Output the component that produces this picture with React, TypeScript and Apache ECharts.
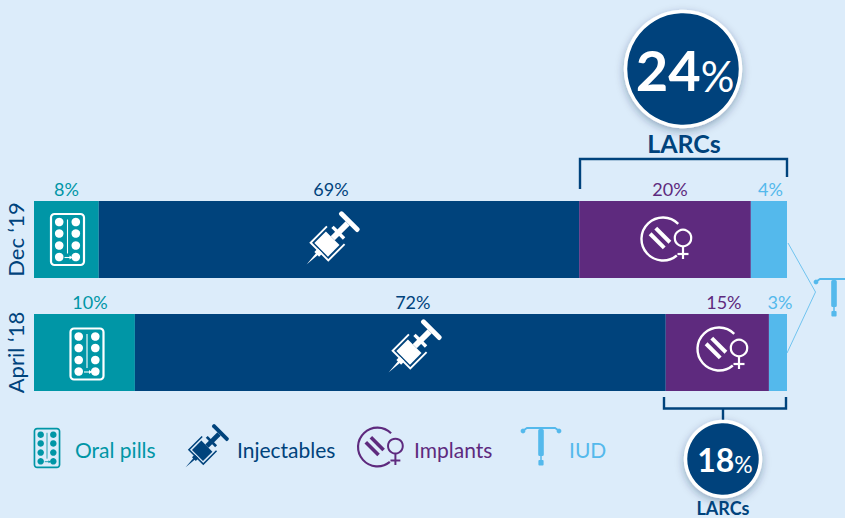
import React, { useEffect, useRef } from "react";
import * as echarts from "echarts";

// Rows, top to bottom
const periods = ["Dec ‘19", "April ‘18"];
// Printed percentages
const pillLabels = ["8%", "10%"];
const injectableLabels = ["69%", "72%"];
const implantLabels = ["20%", "15%"];
const iudLabels = ["4%", "3%"];
// Drawn segment lengths (the source bars are not to scale with the printed figures)
const pillLengths = [8.6, 13.4];
const injectableLengths = [63.8, 70.5];
const implantLengths = [22.8, 13.7];
const iudLengths = [4.8, 2.4];
// Legend & LARC callouts
const legendNames = ["Oral pills", "Injectables", "Implants", "IUD"];
const larcTotals = ["24", "18"];
const larcName = "LARCs";

const BG = "#dcecfa";
const TEAL = "#0096a6";
const NAVY = "#00437c";
const PURPLE = "#5e2a7e";
const SKY = "#54b9ec";
const FONT = "Lato, 'Open Sans', sans-serif";

function withZ(el: any): any {
  el.z = 50;
  if (el.children) el.children.forEach(withZ);
  return el;
}

function pillIcon(x: number, y: number, s: number, fg: string) {
  const children: any[] = [
    { type: "rect", shape: { x: -16.5, y: -25.5, width: 33, height: 51, r: 3.5 }, style: { fill: "none", stroke: fg, lineWidth: 2.2 } },
    { type: "line", shape: { x1: 0, y1: -20, x2: 0, y2: 14 }, style: { stroke: fg, lineWidth: 1.1 } },
    { type: "line", shape: { x1: -3, y1: 18, x2: 3, y2: 18 }, style: { stroke: fg, lineWidth: 1.1 } },
    { type: "polygon", shape: { points: [[2, 16], [5, 18], [2, 20]] }, style: { fill: fg } },
  ];
  [-17.5, -6, 6, 17.5].forEach((cy) => {
    [-8.3, 8.3].forEach((cx) => {
      children.push({ type: "circle", shape: { cx, cy, r: 4.3 }, style: { fill: fg } });
    });
  });
  return { type: "group", x, y, scaleX: s, scaleY: s, silent: true, children };
}

function syringeIcon(x: number, y: number, s: number, fg: string) {
  const children: any[] = [
    { type: "polygon", shape: { points: [[-36, 0], [-20, -1.4], [-20, 1.4]] }, style: { fill: fg } },
    { type: "rect", shape: { x: -21, y: -3.5, width: 5, height: 7 }, style: { fill: fg } },
    { type: "polyline", shape: { points: [[7, -13], [-17, -13], [-17, 13], [7, 13]] }, style: { fill: "none", stroke: fg, lineWidth: 2 } },
    { type: "rect", shape: { x: -14.5, y: -10, width: 17, height: 20 }, style: { fill: fg } },
    { type: "rect", shape: { x: 2.5, y: -3, width: 22, height: 6 }, style: { fill: fg } },
    { type: "rect", shape: { x: 9, y: -8.5, width: 3.5, height: 17 }, style: { fill: fg } },
    { type: "rect", shape: { x: 24.5, y: -14, width: 5, height: 28, r: 2 }, style: { fill: fg } },
  ];
  return { type: "group", x, y, scaleX: s, scaleY: s, rotation: Math.PI / 4, silent: true, children };
}

function implantIcon(x: number, y: number, s: number, fg: string) {
  const deg = Math.PI / 180;
  const children: any[] = [
    { type: "arc", shape: { cx: -4, cy: 0, r: 21.5, startAngle: 50 * deg, endAngle: 315 * deg, clockwise: true }, style: { fill: "none", stroke: fg, lineWidth: 2.4 } },
    {
      type: "group",
      x: -7,
      y: -1,
      rotation: -45 * deg,
      children: [
        { type: "rect", shape: { x: -10, y: -6, width: 20, height: 4 }, style: { fill: fg } },
        { type: "rect", shape: { x: -10, y: 2, width: 20, height: 4 }, style: { fill: fg } },
      ],
    },
    { type: "circle", shape: { cx: 16, cy: -1, r: 8.2 }, style: { fill: "none", stroke: fg, lineWidth: 2.2 } },
    { type: "line", shape: { x1: 16, y1: 7, x2: 16, y2: 20 }, style: { stroke: fg, lineWidth: 2.2 } },
    { type: "line", shape: { x1: 10.5, y1: 15, x2: 21.5, y2: 15 }, style: { stroke: fg, lineWidth: 2.2 } },
  ];
  return { type: "group", x, y, scaleX: s, scaleY: s, silent: true, children };
}

function iudIcon(x: number, y: number, fg: string) {
  const children: any[] = [
    { type: "polyline", shape: { points: [[-17, 2], [-14, 0], [14, 0], [17, 2]] }, style: { fill: "none", stroke: fg, lineWidth: 1.8 } },
    { type: "circle", shape: { cx: -18, cy: 3, r: 2.4 }, style: { fill: fg } },
    { type: "circle", shape: { cx: 18, cy: 3, r: 2.4 }, style: { fill: fg } },
    { type: "rect", shape: { x: -2.8, y: 1, width: 5.6, height: 27, r: 1.5 }, style: { fill: fg } },
    { type: "line", shape: { x1: 0, y1: 28, x2: 0, y2: 32 }, style: { stroke: fg, lineWidth: 1.5 } },
    { type: "rect", shape: { x: -2.6, y: 32, width: 5.2, height: 5.5, r: 1 }, style: { fill: fg } },
  ];
  return { type: "group", x, y, silent: true, children };
}

function legendText(text: string, x: number, fill: string) {
  return {
    type: "text",
    x,
    y: 449,
    silent: true,
    style: { text, fill, fontFamily: FONT, fontSize: 21, align: "left", verticalAlign: "middle" },
  };
}

function bubble(cx: number, cy: number, r: number, num: string, numSize: number, pctSize: number, dx: number) {
  return [
    {
      type: "circle",
      shape: { cx, cy, r },
      silent: true,
      style: { fill: NAVY, stroke: "#ffffff", lineWidth: 3.5, shadowBlur: 8, shadowColor: "rgba(0,40,80,0.35)", shadowOffsetY: 3 },
    },
    {
      type: "text",
      x: cx + dx,
      y: cy,
      silent: true,
      style: {
        text: `{n|${num}}{p|%}`,
        align: "center",
        verticalAlign: "middle",
        rich: {
          n: { fill: "#ffffff", fontFamily: FONT, fontWeight: "bold", fontSize: numSize, verticalAlign: "bottom" },
          p: { fill: "#ffffff", fontFamily: FONT, fontSize: pctSize, verticalAlign: "bottom" },
        },
      },
    },
  ];
}

function segSeries(
  name: string,
  color: string,
  lengths: number[],
  labels: string[],
  labelColor: string,
  offsets: number[]
) {
  return {
    name,
    type: "bar",
    stack: "total",
    barWidth: 77,
    itemStyle: { color },
    data: lengths.map((value, i) => ({
      value,
      label: {
        show: true,
        position: "top",
        distance: 3,
        offset: [offsets[i], 0],
        formatter: labels[i],
        color: labelColor,
        fontFamily: FONT,
        fontSize: 18,
      },
    })),
  };
}

export default function App() {
  const ref = useRef<HTMLDivElement>(null);
  useEffect(() => {
    const chart = echarts.init(ref.current!, undefined, { renderer: "svg" });
    chart.setOption({
      animation: false,
      backgroundColor: BG,
      grid: { left: 34, top: 183, width: 753, height: 226 },
      xAxis: { type: "value", min: 0, max: 100, show: false },
      yAxis: {
        type: "category",
        inverse: true,
        data: periods,
        axisLine: { show: false },
        axisTick: { show: false },
        axisLabel: { rotate: 90, margin: 8, color: NAVY, fontFamily: FONT, fontSize: 22 },
      },
      series: [
        segSeries(legendNames[0], TEAL, pillLengths, pillLabels, TEAL, [0, 5.5]),
        segSeries(legendNames[1], NAVY, injectableLengths, injectableLabels, NAVY, [-8, 12.5]),
        segSeries(legendNames[2], PURPLE, implantLengths, implantLabels, PURPLE, [5, 6.5]),
        segSeries(legendNames[3], SKY, iudLengths, iudLabels, SKY, [1.5, 2]),
      ],
      graphic: {
        z: 50,
        elements: [
          // icons in bars
          pillIcon(67.5, 239.5, 1, "#ffffff"),
          pillIcon(87, 354, 1, "#ffffff"),
          syringeIcon(331, 240, 0.96, "#ffffff"),
          syringeIcon(413, 348, 0.96, "#ffffff"),
          implantIcon(667, 239, 1, "#ffffff"),
          implantIcon(723, 349, 1, "#ffffff"),
          // IUD leader lines and icon
          { type: "polyline", silent: true, shape: { points: [[788, 243], [815.5, 292], [787, 353]] }, style: { fill: "none", stroke: SKY, lineWidth: 0.8 } },
          iudIcon(834, 279, SKY),
          // brackets
          { type: "polyline", silent: true, shape: { points: [[580, 189], [580, 159], [787, 159], [787, 177]] }, style: { fill: "none", stroke: NAVY, lineWidth: 2.4 } },
          { type: "polyline", silent: true, shape: { points: [[664, 397], [664, 408.5], [786, 408.5], [786, 397]] }, style: { fill: "none", stroke: NAVY, lineWidth: 2.4 } },
          { type: "line", silent: true, shape: { x1: 723, y1: 408, x2: 723, y2: 423 }, style: { stroke: NAVY, lineWidth: 2.4 } },
          // callouts
          ...bubble(683, 69, 57.5, larcTotals[0], 56, 42, 2),
          { type: "text", x: 684, y: 142.5, silent: true, style: { text: larcName, fill: NAVY, fontFamily: FONT, fontWeight: "bold", fontSize: 25, align: "center", verticalAlign: "middle" } },
          ...bubble(723, 459, 37.5, larcTotals[1], 32, 23, 2),
          { type: "text", x: 723, y: 508, silent: true, style: { text: larcName, fill: NAVY, fontFamily: FONT, fontWeight: "bold", fontSize: 18, align: "center", verticalAlign: "middle" } },
          // legend
          pillIcon(47, 448, 0.76, TEAL),
          legendText(legendNames[0], 75, TEAL),
          syringeIcon(205.5, 447.5, 0.78, NAVY),
          legendText(legendNames[1], 237, NAVY),
          implantIcon(381, 447, 0.9, PURPLE),
          legendText(legendNames[2], 414, PURPLE),
          iudIcon(541, 428, SKY),
          legendText(legendNames[3], 569, SKY),
        ].map(withZ),
      },
    });
    return () => chart.dispose();
  }, []);
  return <div ref={ref} style={{ position: "fixed", left: 0, top: 0, width: 845, height: 518 }} />;
}
